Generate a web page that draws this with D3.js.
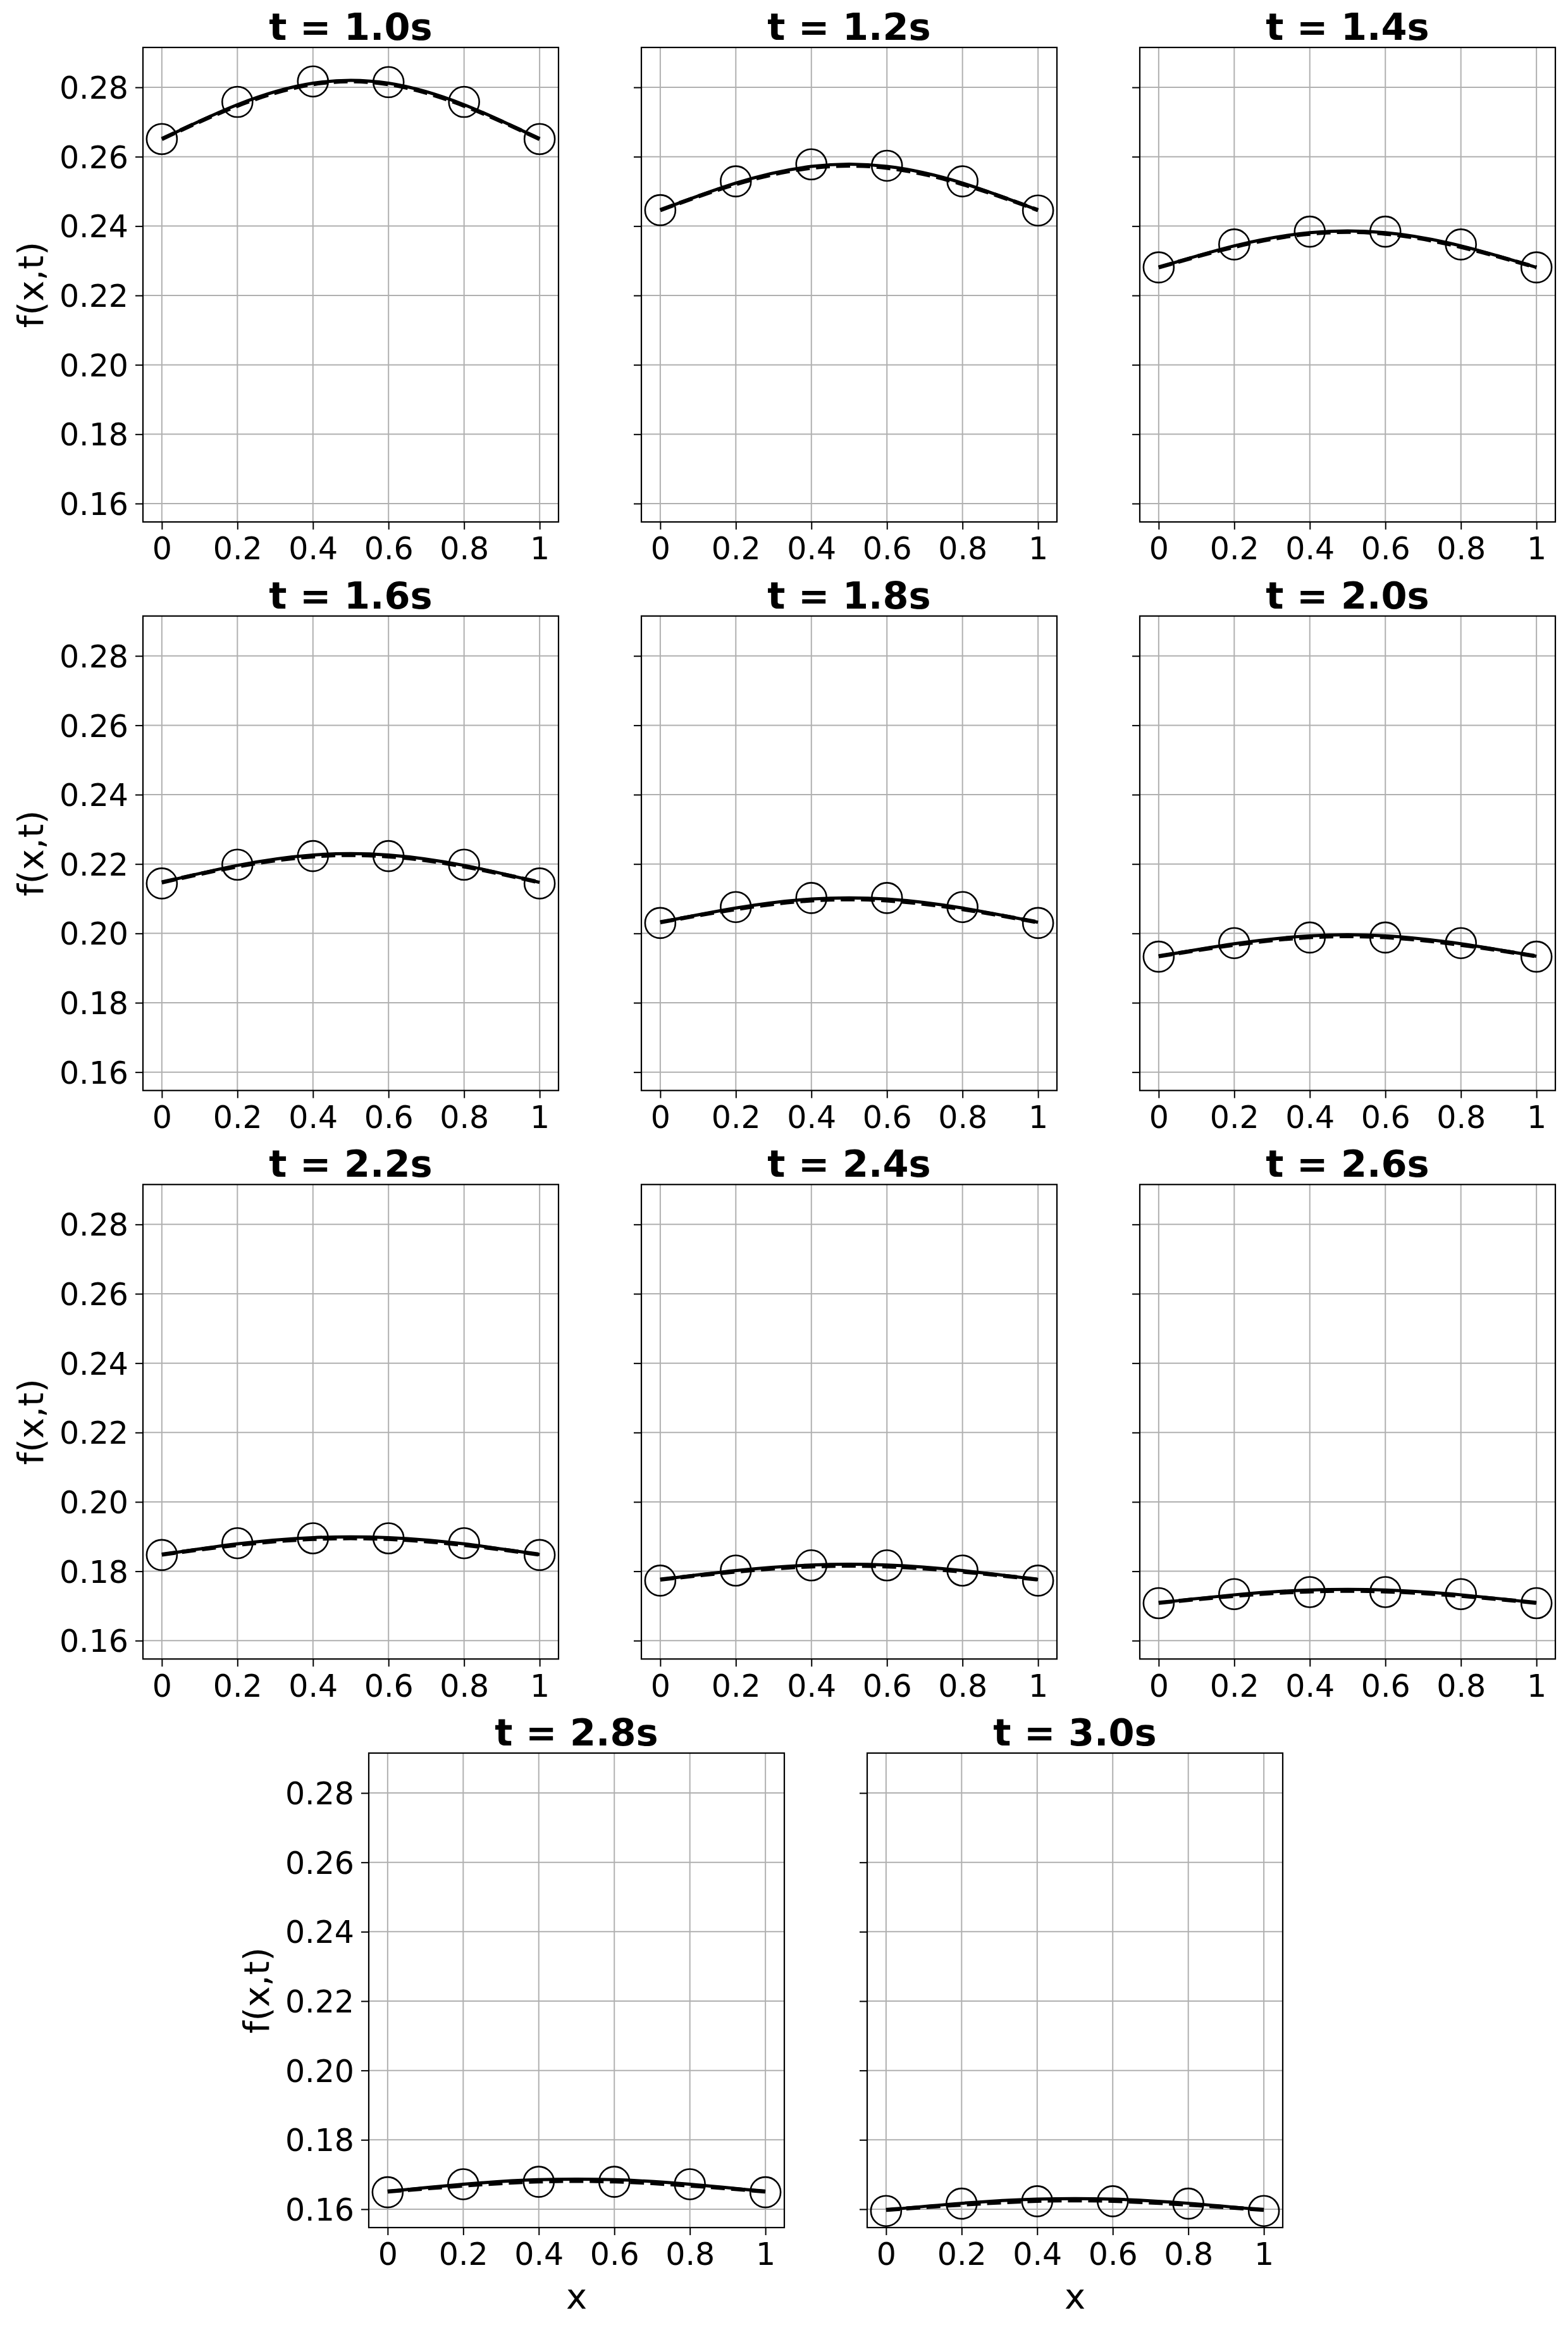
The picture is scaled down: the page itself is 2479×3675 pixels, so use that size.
<!DOCTYPE html>
<html>
<head>
<meta charset="utf-8">
<script src="https://cdn.jsdelivr.net/npm/d3@7"></script>
<style>
  html, body { margin: 0; padding: 0; background: #ffffff; }
  svg text { font-family: "DejaVu Sans", sans-serif; fill: #000; }
</style>
</head>
<body>
<svg id="chart" width="2479" height="3675"></svg>
<script>
// ---------------- data ----------------
const times = [1.0, 1.2, 1.4, 1.6, 1.8, 2.0, 2.2, 2.4, 2.6, 2.8, 3.0];
const xGrid = [0, 0.2, 0.4, 0.6, 0.8, 1.0];
const xTicks = [0, 0.2, 0.4, 0.6, 0.8, 1];
const xTickLabels = ["0", "0.2", "0.4", "0.6", "0.8", "1"];
const yTicks = [0.16, 0.18, 0.20, 0.22, 0.24, 0.26, 0.28];
const yTickLabels = ["0.16", "0.18", "0.20", "0.22", "0.24", "0.26", "0.28"];

// circles (numerical solution at grid nodes)
const numericVals = [
  [0.2651, 0.2758, 0.2817, 0.2815, 0.2758, 0.2651],
  [0.2446, 0.2529, 0.2578, 0.2574, 0.2529, 0.2445],
  [0.2281, 0.2347, 0.2384, 0.2384, 0.2347, 0.2281],
  [0.2144, 0.2198, 0.2223, 0.2223, 0.2198, 0.2144],
  [0.2030, 0.2076, 0.2102, 0.2102, 0.2076, 0.2030],
  [0.1933, 0.1972, 0.1988, 0.1988, 0.1972, 0.1933],
  [0.1847, 0.1881, 0.1895, 0.1895, 0.1881, 0.1847],
  [0.1773, 0.1802, 0.1817, 0.1817, 0.1802, 0.1773],
  [0.1708, 0.1734, 0.1740, 0.1740, 0.1734, 0.1708],
  [0.1649, 0.1672, 0.1679, 0.1679, 0.1672, 0.1649],
  [0.1595, 0.1616, 0.1623, 0.1623, 0.1616, 0.1595]
];
// solid line
const solidVals = [
  [0.2651, 0.2750, 0.2812, 0.2812, 0.2750, 0.2651],
  [0.2446, 0.2524, 0.2572, 0.2572, 0.2524, 0.2446],
  [0.2281, 0.2343, 0.2381, 0.2381, 0.2343, 0.2281],
  [0.2147, 0.2196, 0.2226, 0.2226, 0.2196, 0.2147],
  [0.2032, 0.2073, 0.2099, 0.2099, 0.2073, 0.2032],
  [0.1934, 0.1970, 0.1993, 0.1993, 0.1970, 0.1934],
  [0.1848, 0.1879, 0.1897, 0.1897, 0.1879, 0.1848],
  [0.1776, 0.1802, 0.1818, 0.1818, 0.1802, 0.1776],
  [0.1709, 0.1732, 0.1746, 0.1746, 0.1732, 0.1709],
  [0.1651, 0.1672, 0.1685, 0.1685, 0.1672, 0.1651],
  [0.1598, 0.1617, 0.1629, 0.1629, 0.1617, 0.1598]
];
// dashed line
const dashedVals = [
  [0.2651, 0.2747, 0.2809, 0.2809, 0.2747, 0.2651],
  [0.2446, 0.2521, 0.2568, 0.2568, 0.2521, 0.2446],
  [0.2281, 0.2340, 0.2378, 0.2378, 0.2340, 0.2281],
  [0.2147, 0.2193, 0.2222, 0.2222, 0.2193, 0.2147],
  [0.2032, 0.2070, 0.2095, 0.2095, 0.2070, 0.2032],
  [0.1934, 0.1967, 0.1989, 0.1989, 0.1967, 0.1934],
  [0.1848, 0.1876, 0.1893, 0.1893, 0.1876, 0.1848],
  [0.1776, 0.1799, 0.1814, 0.1814, 0.1799, 0.1776],
  [0.1709, 0.1729, 0.1742, 0.1742, 0.1729, 0.1709],
  [0.1651, 0.1668, 0.1680, 0.1680, 0.1668, 0.1651],
  [0.1598, 0.1613, 0.1624, 0.1624, 0.1613, 0.1598]
];

// ---------------- layout ----------------
const W = 657, H = 750;
const colLeft = [226, 1014, 1802];
const rowTop = [75, 973.7, 1872.3, 2771];
const lastRowLeft = [583, 1371];
const panels = times.map((t, i) => {
  const r = Math.floor(i / 3), c = i % 3;
  const left = r < 3 ? colLeft[c] : lastRowLeft[c];
  return { i, t, left, top: rowTop[r], row: r, col: c };
});

const svg = d3.select("#chart");
svg.append("rect").attr("width", 2479).attr("height", 3675).attr("fill", "#fff");

const x = d3.scaleLinear().domain([-0.05, 1.05]).range([0, W]);
const y = d3.scaleLinear().domain([0.1547, 0.2915]).range([H, 0]);

const gridColor = "#b0b0b0";

panels.forEach(p => {
  const g = svg.append("g").attr("transform", `translate(${p.left},${p.top})`);
  const showY = (p.col === 0);
  const showXLabel = (p.row === 3);

  // grid
  g.append("g").selectAll("line.vg").data(xTicks).join("line")
    .attr("x1", d => x(d)).attr("x2", d => x(d)).attr("y1", 0).attr("y2", H)
    .attr("stroke", gridColor).attr("stroke-width", 2);
  g.append("g").selectAll("line.hg").data(yTicks).join("line")
    .attr("y1", d => y(d)).attr("y2", d => y(d)).attr("x1", 0).attr("x2", W)
    .attr("stroke", gridColor).attr("stroke-width", 2);

  // axes (ticks)
  const xAxis = d3.axisBottom(x).tickValues(xTicks)
    .tickFormat((d, k) => xTickLabels[k]).tickSize(12).tickPadding(10);
  const gx = g.append("g").attr("transform", `translate(0,${H})`).call(xAxis);
  gx.select(".domain").remove();
  gx.selectAll(".tick line").attr("stroke", "#000").attr("stroke-width", 2);
  gx.selectAll(".tick text").attr("font-size", 49).attr("font-family", "DejaVu Sans")
    .attr("fill", "#000").attr("dy", "0.76em");

  const yAxis = d3.axisLeft(y).tickValues(yTicks)
    .tickFormat((d, k) => showY ? yTickLabels[k] : "").tickSize(12).tickPadding(11);
  const gy = g.append("g").call(yAxis);
  gy.select(".domain").remove();
  gy.selectAll(".tick line").attr("stroke", "#000").attr("stroke-width", 2);
  gy.selectAll(".tick text").attr("font-size", 49).attr("font-family", "DejaVu Sans")
    .attr("fill", "#000").attr("dy", "0.36em");

  // lines
  const lineGen = d3.line().x((d, k) => x(xGrid[k])).y(d => y(d)).curve(d3.curveNatural);
  g.append("path").datum(dashedVals[p.i]).attr("d", lineGen)
    .attr("fill", "none").attr("stroke", "#000").attr("stroke-width", 6.5)
    .attr("stroke-dasharray", "22,10");
  g.append("path").datum(solidVals[p.i]).attr("d", lineGen)
    .attr("fill", "none").attr("stroke", "#000").attr("stroke-width", 5);

  // circles
  g.append("g").selectAll("circle").data(numericVals[p.i]).join("circle")
    .attr("cx", (d, k) => x(xGrid[k])).attr("cy", d => y(d)).attr("r", 24)
    .attr("fill", "none").attr("stroke", "#000").attr("stroke-width", 2.6);

  // spines
  g.append("rect").attr("x", 0).attr("y", 0).attr("width", W).attr("height", H)
    .attr("fill", "none").attr("stroke", "#000").attr("stroke-width", 2.2);

  // title
  g.append("text").attr("x", W / 2).attr("y", -12).attr("text-anchor", "middle")
    .attr("font-size", 59).attr("font-weight", "bold")
    .text(`t = ${p.t.toFixed(1)}s`);

  if (showY) {
    g.append("text")
      .attr("transform", `translate(${-178},${H / 2}) rotate(-90)`)
      .attr("text-anchor", "middle").attr("dy", "0.36em")
      .attr("font-size", 56).text("f(x,t)");
  }
  if (showXLabel) {
    g.append("text").attr("x", W / 2).attr("y", H + 128).attr("text-anchor", "middle")
      .attr("font-size", 56).text("x");
  }
});
</script>
</body>
</html>
